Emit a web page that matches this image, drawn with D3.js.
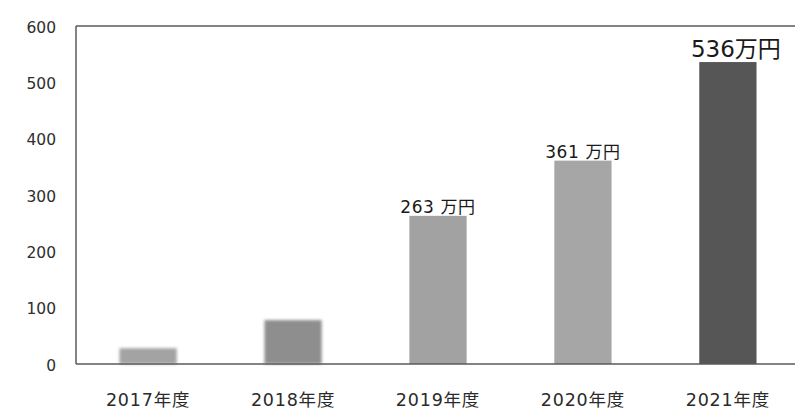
<!DOCTYPE html>
<html>
<head>
<meta charset="utf-8">
<script src="https://cdn.jsdelivr.net/npm/d3@7"></script>
<style>
  html, body { margin: 0; padding: 0; background: #fff; }
  svg { display: block; font-family: "DejaVu Sans", "Noto Sans CJK JP", sans-serif; }
</style>
</head>
<body>
<svg id="chart" width="795" height="412"></svg>
<script>
// Annual revenue by fiscal year (unit: 万円)
const years = ["2017年度", "2018年度", "2019年度", "2020年度", "2021年度"];
const values = [28, 78, 263, 361, 536];
const barColors = ["#a3a3a3", "#8e8e8e", "#a2a2a2", "#a6a6a6", "#565656"];
const valueLabels = [null, null, "263 万円", "361 万円", "536万円"];
const labelSizes = [0, 0, 17, 17, 23];
const labelShift = [0, 0, 0, 0, 8];
const labelGap = [0, 0, 3, 3, 5];
const yTicks = [0, 100, 200, 300, 400, 500, 600];

const svg = d3.select("#chart");
const margin = { left: 76, top: 26, bottom: 48, right: -5 };
const W = 795, H = 412;

const x = d3.scaleBand()
  .domain(years)
  .range([margin.left, W - margin.right])
  .paddingInner(0.605)
  .paddingOuter(0.3);

const y = d3.scaleLinear()
  .domain([0, 600])
  .range([H - margin.bottom, margin.top]);

// soft blur for the first two (mosaic-like) bars
const defs = svg.append("defs");
defs.append("filter").attr("id", "soft")
  .attr("x", "-20%").attr("y", "-20%").attr("width", "140%").attr("height", "140%")
  .append("feGaussianBlur").attr("stdDeviation", 1.4);

// bars
svg.append("g").selectAll("rect")
  .data(values)
  .join("rect")
  .attr("x", (d, i) => x(years[i]))
  .attr("width", x.bandwidth())
  .attr("y", d => y(d))
  .attr("height", d => y(0) - y(d))
  .attr("fill", (d, i) => barColors[i])
  .attr("filter", (d, i) => i < 2 ? "url(#soft)" : null);

// frame: left, top and bottom lines
const frame = svg.append("g").attr("stroke", "#5a5a5a").attr("stroke-width", 1.5);
frame.append("line").attr("x1", margin.left).attr("x2", margin.left)
  .attr("y1", y(600)).attr("y2", y(0));
frame.append("line").attr("x1", margin.left).attr("x2", W)
  .attr("y1", y(600)).attr("y2", y(600));
frame.append("line").attr("x1", margin.left).attr("x2", W)
  .attr("y1", y(0)).attr("y2", y(0));

// y axis labels
const yAxis = d3.axisLeft(y).tickValues(yTicks).tickSize(0).tickPadding(20);
const gy = svg.append("g").attr("transform", `translate(${margin.left},0)`).call(yAxis);
gy.select(".domain").remove();
gy.selectAll("text").attr("font-size", 15.5).attr("fill", "#2e2e2e")
  .attr("font-family", "'DejaVu Sans', sans-serif").attr("dy", "0.4em");

// x axis labels
const xAxis = d3.axisBottom(x).tickSize(0).tickPadding(30);
const gx = svg.append("g").attr("transform", `translate(0,${y(0)})`).call(xAxis);
gx.select(".domain").remove();
gx.selectAll("text").attr("font-size", 17.5).attr("fill", "#2a2a2a")
  .attr("letter-spacing", 0.8)
  .attr("font-family", "'DejaVu Sans', 'Noto Sans CJK JP', sans-serif");

// value labels
svg.append("g").selectAll("text")
  .data(values.map((v, i) => ({ v, i })).filter(d => valueLabels[d.i]))
  .join("text")
  .attr("x", d => x(years[d.i]) + x.bandwidth() / 2 + labelShift[d.i])
  .attr("y", d => y(d.v) - labelGap[d.i])
  .attr("text-anchor", "middle")
  .attr("font-size", d => labelSizes[d.i])
  .attr("letter-spacing", d => d.i === 4 ? 0 : 0.6)
  .attr("fill", "#1a1a1a")
  .text(d => valueLabels[d.i]);
</script>
</body>
</html>
